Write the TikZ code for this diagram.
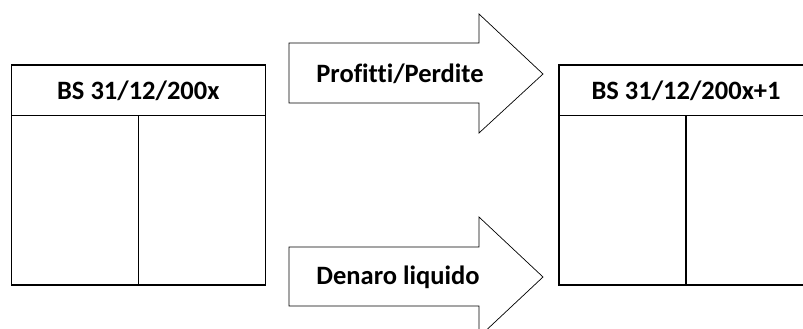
\documentclass[tikz,border=0pt]{standalone}
\usepackage{fontspec}
\setmainfont{Carlito}[Ligatures=NoCommon]
\usetikzlibrary{positioning}

\begin{document}
\begin{tikzpicture}[x=1pt,y=-1pt,font=\bfseries\fontsize{26.5}{31}\selectfont]
    \tikzstyle{head}=[draw, line width=1.2pt, minimum width=254pt, minimum height=50.7pt, inner sep=0pt, outer sep=0pt]
    \tikzstyle{body}=[draw, line width=1.2pt, minimum width=254pt, minimum height=169.3pt, inner sep=0pt, outer sep=0pt]
    \tikzstyle{block}=[draw, line width=0.7pt, line join=miter]

    \clip (0,0) rectangle (803,329);

    % balance sheets
    \node[head] (hdrA) at (138.3,90.35) {BS 31/12/200x};
    \node[body, below=0pt of hdrA] (bodyA) {};
    \draw[line width=1.2pt] (bodyA.north) -- (bodyA.south);

    \node[head] (hdrB) at (686,90.35) {BS 31/12/200x+1};
    \node[body, below=0pt of hdrB] (bodyB) {};
    \draw[line width=1.2pt] (bodyB.north) -- (bodyB.south);

    % flows
    \draw[block] (289,43) -- (479,43) -- (479,14) -- (543,74) -- (479,133) -- (479,103) -- (289,103) -- cycle;
    \node (pp) at (400,74) {Profitti/Perdite};

    \draw[block] (289,247) -- (479,247) -- (479,217) -- (543,277) -- (479,337) -- (479,306) -- (289,306) -- cycle;
    \node (dl) at (398,277) {Denaro liquido};
\end{tikzpicture}
\end{document}
